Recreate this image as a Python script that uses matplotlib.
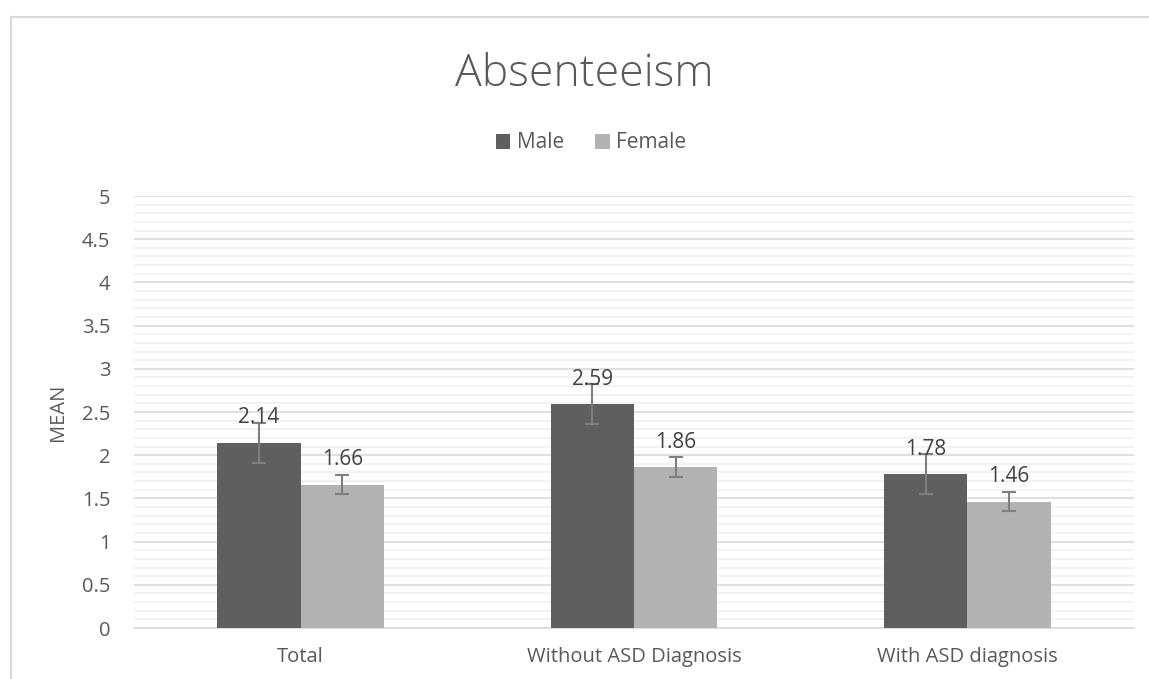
import matplotlib
matplotlib.use("Agg")
import matplotlib.pyplot as plt
import numpy as np
from matplotlib.ticker import MultipleLocator
from matplotlib.lines import Line2D

categories = ["Total", "Without ASD Diagnosis", "With ASD diagnosis"]
series_names = ["Male", "Female"]
male = [2.14, 2.59, 1.78]
female = [1.66, 1.86, 1.46]
male_err = [0.23, 0.23, 0.23]
female_err = [0.11, 0.115, 0.11]
yticks = [0, 0.5, 1, 1.5, 2, 2.5, 3, 3.5, 4, 4.5, 5]

plt.rcParams['font.family'] = ['Open Sans', 'DejaVu Sans']
text_col = "#595959"

W, H = 1149, 679
fig = plt.figure(figsize=(W/100, H/100), dpi=100)

# outer chart border
fig.add_artist(Line2D([11/W, 11/W], [0, 1 - 17/H], color="#d9d9d9", lw=1.5))
fig.add_artist(Line2D([11/W, 1], [1 - 17/H, 1 - 17/H], color="#d9d9d9", lw=1.5))

ax = fig.add_axes([134/W, 1 - 628/H, 1000/W, (628-196)/H])
x = np.arange(len(categories))
bw = 0.25
ax.bar(x - bw/2, male, bw, color="#5f5f5f", label=series_names[0], zorder=3)
ax.bar(x + bw/2, female, bw, color="#b2b2b2", label=series_names[1], zorder=3)
ax.errorbar(x - bw/2, male, yerr=male_err, fmt="none", ecolor="#7f7f7f",
            elinewidth=1.5, capsize=5, capthick=1.5, zorder=4)
ax.errorbar(x + bw/2, female, yerr=female_err, fmt="none", ecolor="#7f7f7f",
            elinewidth=1.5, capsize=5, capthick=1.5, zorder=4)

for xi, v in zip(x - bw/2, male):
    ax.text(xi, v + 0.17, f"{v:.2f}", ha="center", va="bottom", fontsize=15, color="#404040", zorder=5)
for xi, v in zip(x + bw/2, female):
    ax.text(xi, v + 0.17, f"{v:.2f}", ha="center", va="bottom", fontsize=15, color="#404040", zorder=5)

ax.set_xlim(-0.5, 2.5)
ax.set_ylim(0, 5)
ax.set_yticks(yticks)
ax.set_yticklabels([f"{t:g}" for t in yticks])
ax.yaxis.set_minor_locator(MultipleLocator(0.1))
ax.grid(axis="y", which="major", color="#d9d9d9", lw=1.2, zorder=0)
ax.grid(axis="y", which="minor", color="#f0f0f0", lw=1.2, zorder=0)
ax.set_xticks(x)
ax.set_xticklabels(categories)
ax.tick_params(axis="both", which="both", length=0, labelsize=14.5, colors=text_col)
ax.tick_params(axis="y", pad=17)
ax.tick_params(axis="x", pad=14)
for s in ["top", "right", "left"]:
    ax.spines[s].set_visible(False)
ax.spines["bottom"].set_color("#d9d9d9")
ax.spines["bottom"].set_linewidth(1.2)
ax.set_ylabel("MEAN", fontsize=14.5, color=text_col, labelpad=10)

fig.text(584/W, 1 - 75/H, "Absenteeism", ha="center", va="center", fontsize=32,
         color=text_col, fontweight="light")
ax.legend(loc="center", bbox_to_anchor=(591/W, 1 - 143/H), bbox_transform=fig.transFigure,
          ncol=2, frameon=False, fontsize=15, labelcolor=text_col,
          handlelength=0.7, handleheight=0.7, handletextpad=0.3, columnspacing=1.5)

fig.savefig("out.png", dpi=100)
